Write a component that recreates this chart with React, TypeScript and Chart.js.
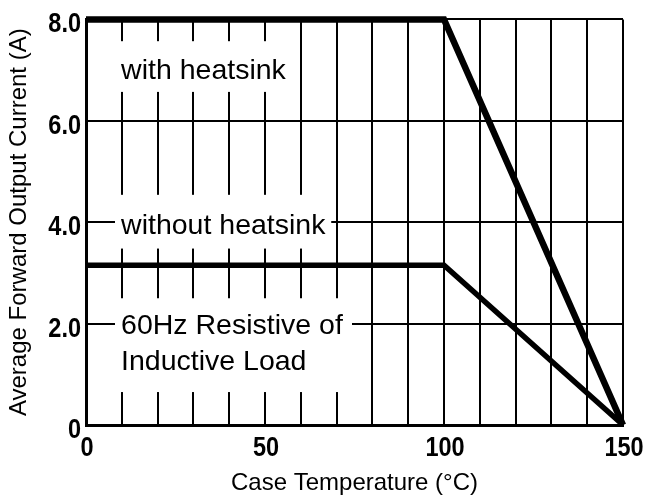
import React, { useEffect, useRef } from "react";
import { Chart, registerables } from "chart.js";

Chart.register(...registerables);

// ---- data ----
const temps = [0, 100, 150];
const withHeatsink = [8, 8, 0];
const withoutHeatsink = [3.15, 3.15, 0];
const xTickLabels = [0, 50, 100, 150];
const yTickLabels: Record<number, string> = { 0: "0", 2: "2.0", 4: "4.0", 6: "6.0", 8: "8.0" };
const xTitle = "Case Temperature (°C)";
const yTitle = "Average Forward Output Current (A)";
const labelTexts = ["with heatsink", "without heatsink", "60Hz Resistive of", "Inductive Load"];

const FONT = "'Liberation Sans', Arial, Helvetica, sans-serif";

// white knock-out boxes (data units) and label anchor points (data units)
const knockouts = [
  { x0: 8.1, x1: 57, y0: 6.57, y1: 7.57 },
  { x0: 8.1, x1: 68.5, y0: 3.48, y1: 4.54 },
  { x0: 8.1, x1: 74.3, y0: 0.65, y1: 2.5 },
];
const labelAnchors = [
  { x: 9.8, y: 6.83 },
  { x: 9.8, y: 3.775 },
  { x: 9.8, y: 1.8 },
  { x: 9.8, y: 1.076 },
];

const TICK_FONT = `bold 28px ${FONT}`;
const TICK_SX = 0.84;

const labelPlugin = {
  id: "labelBoxes",
  beforeDatasetsDraw(chart: any) {
    const { ctx, scales } = chart;
    const xs = scales.x;
    const ys = scales.y;
    ctx.save();
    ctx.fillStyle = "#ffffff";
    knockouts.forEach((b) => {
      const l = xs.getPixelForValue(b.x0);
      const r = xs.getPixelForValue(b.x1);
      const t = ys.getPixelForValue(b.y1);
      const btm = ys.getPixelForValue(b.y0);
      ctx.fillRect(l, t, r - l, btm - t);
    });
    ctx.fillStyle = "#000000";
    ctx.font = `28.5px ${FONT}`;
    ctx.textBaseline = "alphabetic";
    ctx.textAlign = "left";
    labelTexts.forEach((txt, i) => {
      const a = labelAnchors[i];
      ctx.fillText(txt, xs.getPixelForValue(a.x), ys.getPixelForValue(a.y));
    });
    ctx.restore();
  },
  afterDraw(chart: any) {
    // condensed tick labels, positioned from the library's scales
    const { ctx, scales } = chart;
    const xs = scales.x;
    const ys = scales.y;
    ctx.save();
    ctx.fillStyle = "#000";
    ctx.font = TICK_FONT;
    ctx.textBaseline = "alphabetic";
    xs.ticks.forEach((t: any) => {
      if (!xTickLabels.includes(t.value)) return;
      ctx.save();
      ctx.translate(xs.getPixelForValue(t.value) + 1, xs.top + 31);
      ctx.scale(TICK_SX, 1);
      ctx.textAlign = "center";
      ctx.fillText(String(t.value), 0, 0);
      ctx.restore();
    });
    ys.ticks.forEach((t: any) => {
      const lab = yTickLabels[t.value];
      if (lab === undefined) return;
      ctx.save();
      ctx.translate(ys.right - 5, ys.getPixelForValue(t.value) + 13);
      ctx.scale(TICK_SX, 1);
      ctx.textAlign = "right";
      ctx.fillText(lab, 0, 0);
      ctx.restore();
    });
    ctx.restore();
  },
};

export default function App() {
  const ref = useRef<HTMLCanvasElement | null>(null);
  useEffect(() => {
    document.body.style.margin = "0";
    const canvas = ref.current!;
    const chart = new Chart(canvas, {
      type: "line",
      data: {
        datasets: [
          {
            label: "with heatsink",
            data: temps.map((t, i) => ({ x: t, y: withHeatsink[i] })),
            borderColor: "#000",
            borderWidth: 6.5,
            pointRadius: 0,
            tension: 0,
            clip: false as any,
            borderJoinStyle: "miter",
          },
          {
            label: "without heatsink",
            data: temps.map((t, i) => ({ x: t, y: withoutHeatsink[i] })),
            borderColor: "#000",
            borderWidth: 5.5,
            pointRadius: 0,
            tension: 0,
            clip: false as any,
            borderJoinStyle: "miter",
          },
        ],
      },
      options: {
        animation: false,
        responsive: false,
        maintainAspectRatio: false,
        layout: { padding: { top: 16, right: 27, left: 0, bottom: 0 } },
        plugins: {
          legend: { display: false },
          tooltip: { enabled: false },
        },
        scales: {
          x: {
            type: "linear",
            min: 0,
            max: 150,
            afterFit: (s: any) => {
              s.height = 78;
            },
            ticks: {
              stepSize: 10,
              autoSkip: false,
              maxRotation: 0,
              padding: 1,
              color: "rgba(0,0,0,0)",
              font: { family: FONT, size: 24, weight: "bold" },
              callback: (v: any) => (xTickLabels.includes(Number(v)) ? String(v) : ""),
            },
            grid: { color: "#000", lineWidth: 2, drawTicks: false },
            border: { display: true, color: "#000", width: 3 },
            title: {
              display: true,
              text: xTitle,
              color: "#000",
              font: { family: FONT, size: 24 },
              padding: { top: 0, bottom: 5 },
            },
          },
          y: {
            type: "linear",
            min: 0,
            max: 8,
            afterFit: (s: any) => {
              s.width = 86;
            },
            ticks: {
              stepSize: 2,
              padding: 5,
              color: "rgba(0,0,0,0)",
              font: { family: FONT, size: 24, weight: "bold" },
              callback: (v: any) => yTickLabels[Number(v)] ?? "",
            },
            grid: { color: "#000", lineWidth: 2, drawTicks: false },
            border: { display: true, color: "#000", width: 3 },
            title: {
              display: true,
              text: yTitle,
              color: "#000",
              font: { family: FONT, size: 24 },
              padding: { top: 5, bottom: 0 },
            },
          },
        },
      },
      plugins: [labelPlugin],
    });
    return () => chart.destroy();
  }, []);
  return (
    <div style={{ width: 650, height: 503 }}>
      <canvas ref={ref} width={650} height={503} style={{ display: "block", width: 650, height: 503 }} />
    </div>
  );
}
